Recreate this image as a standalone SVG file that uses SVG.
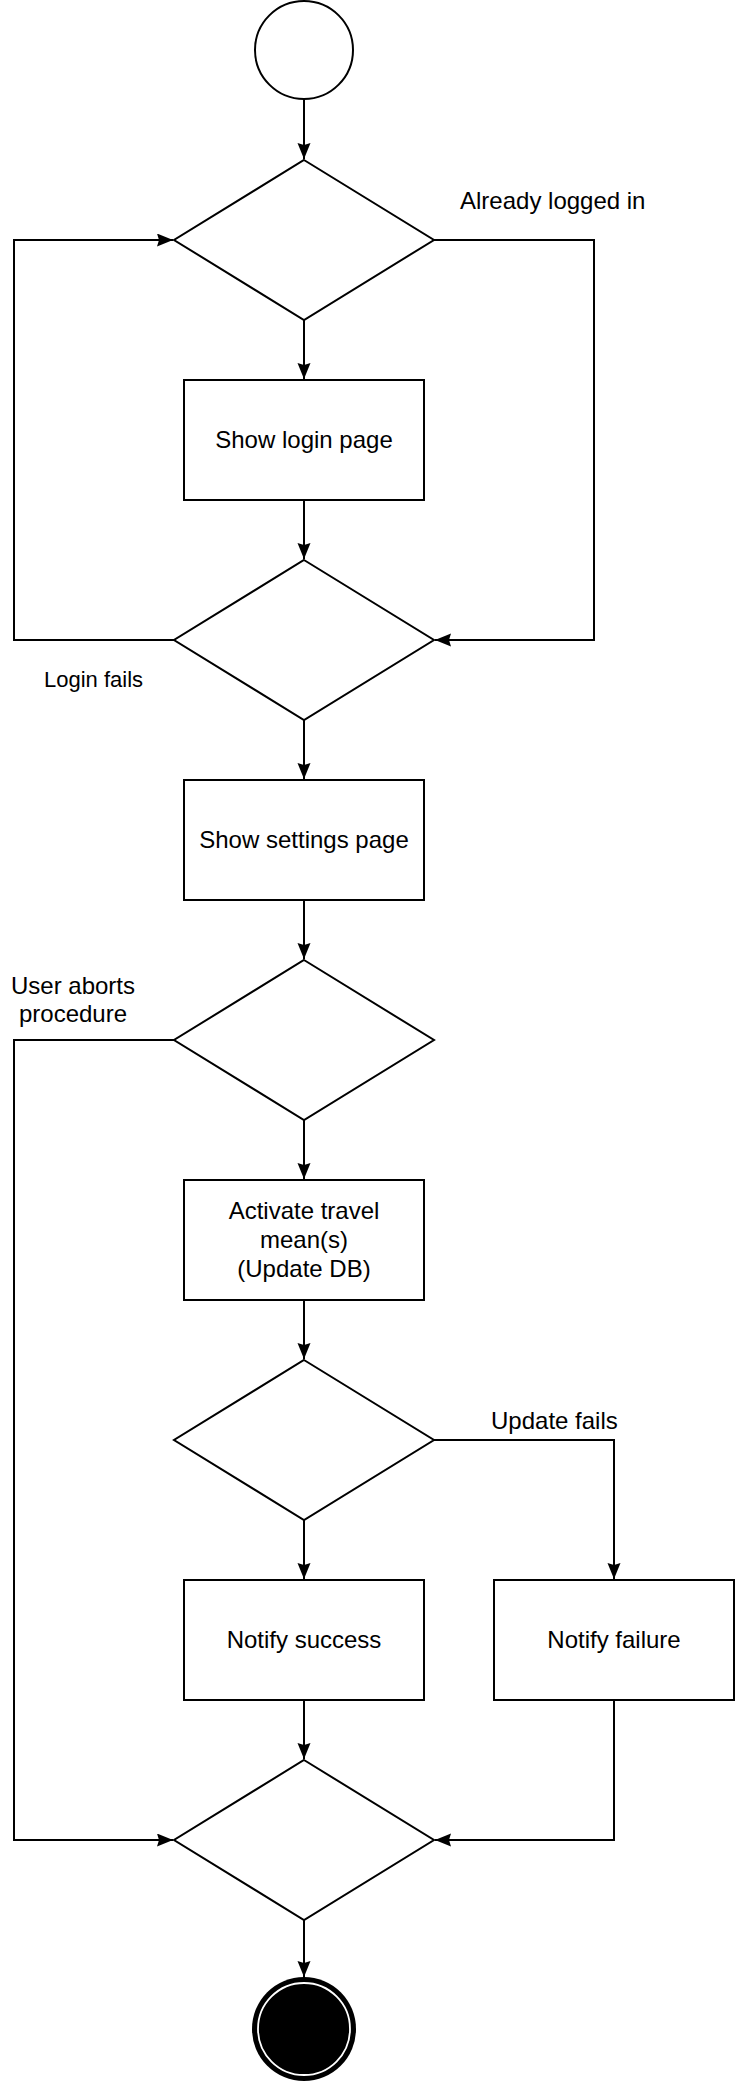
<svg xmlns="http://www.w3.org/2000/svg" width="735" height="2082" viewBox="0 0 735 2082">
<style>
.n{fill:#fff;stroke:#000;stroke-width:2}
.c{fill:none;stroke:#000;stroke-width:2}
text{font-family:"Liberation Sans",Arial,Helvetica,sans-serif;font-size:24px;fill:#000}
.m{text-anchor:middle}
.s{font-size:22px}
</style>
<defs>
<marker id="a" markerUnits="userSpaceOnUse" markerWidth="18" markerHeight="14" refX="16" refY="6.5" orient="auto">
<path d="M0,0 L16,6.5 L0,13 L2,6.5 Z" fill="#000"/>
</marker>
</defs>
<rect width="735" height="2082" fill="#fff"/>
<g id="connectors">
<path class="c" d="M304,99 V159" marker-end="url(#a)"/>
<path class="c" d="M304,320 V379" marker-end="url(#a)"/>
<path class="c" d="M304,500 V559" marker-end="url(#a)"/>
<path class="c" d="M434,240 H594 V640 H435" marker-end="url(#a)"/>
<path class="c" d="M174,640 H14 V240 H173" marker-end="url(#a)"/>
<path class="c" d="M304,720 V779" marker-end="url(#a)"/>
<path class="c" d="M304,900 V959" marker-end="url(#a)"/>
<path class="c" d="M304,1120 V1179" marker-end="url(#a)"/>
<path class="c" d="M304,1300 V1359" marker-end="url(#a)"/>
<path class="c" d="M304,1520 V1579" marker-end="url(#a)"/>
<path class="c" d="M434,1440 H614 V1579" marker-end="url(#a)"/>
<path class="c" d="M304,1700 V1759" marker-end="url(#a)"/>
<path class="c" d="M614,1700 V1840 H435" marker-end="url(#a)"/>
<path class="c" d="M174,1040 H14 V1840 H173" marker-end="url(#a)"/>
<path class="c" d="M304,1920 V1977" marker-end="url(#a)"/>
<text x="460" y="209">Already logged in</text>
<text class="s" x="44" y="687">Login fails</text>
<text class="m" x="73" y="994">User aborts</text>
<text class="m" x="73" y="1022">procedure</text>
<text x="491" y="1429">Update fails</text>
</g>
<g id="start"><circle class="n" cx="304" cy="50" r="49"/></g>
<g id="d1"><polygon class="n" points="304,160 434,240 304,320 174,240"/></g>
<g id="login"><rect class="n" x="184" y="380" width="240" height="120"/><text class="m" x="304" y="448">Show login page</text></g>
<g id="d2"><polygon class="n" points="304,560 434,640 304,720 174,640"/></g>
<g id="settings"><rect class="n" x="184" y="780" width="240" height="120"/><text class="m" x="304" y="848">Show settings page</text></g>
<g id="d3"><polygon class="n" points="304,960 434,1040 304,1120 174,1040"/></g>
<g id="activate"><rect class="n" x="184" y="1180" width="240" height="120"/>
<text class="m" x="304" y="1219">Activate travel</text>
<text class="m" x="304" y="1248">mean(s)</text>
<text class="m" x="304" y="1277">(Update DB)</text></g>
<g id="d4"><polygon class="n" points="304,1360 434,1440 304,1520 174,1440"/></g>
<g id="success"><rect class="n" x="184" y="1580" width="240" height="120"/><text class="m" x="304" y="1648">Notify success</text></g>
<g id="failure"><rect class="n" x="494" y="1580" width="240" height="120"/><text class="m" x="614" y="1648">Notify failure</text></g>
<g id="d5"><polygon class="n" points="304,1760 434,1840 304,1920 174,1840"/></g>
<g id="end"><circle cx="304" cy="2029" r="52" fill="#000"/><circle cx="304" cy="2029" r="46" fill="none" stroke="#fff" stroke-width="1.8"/></g>
</svg>
